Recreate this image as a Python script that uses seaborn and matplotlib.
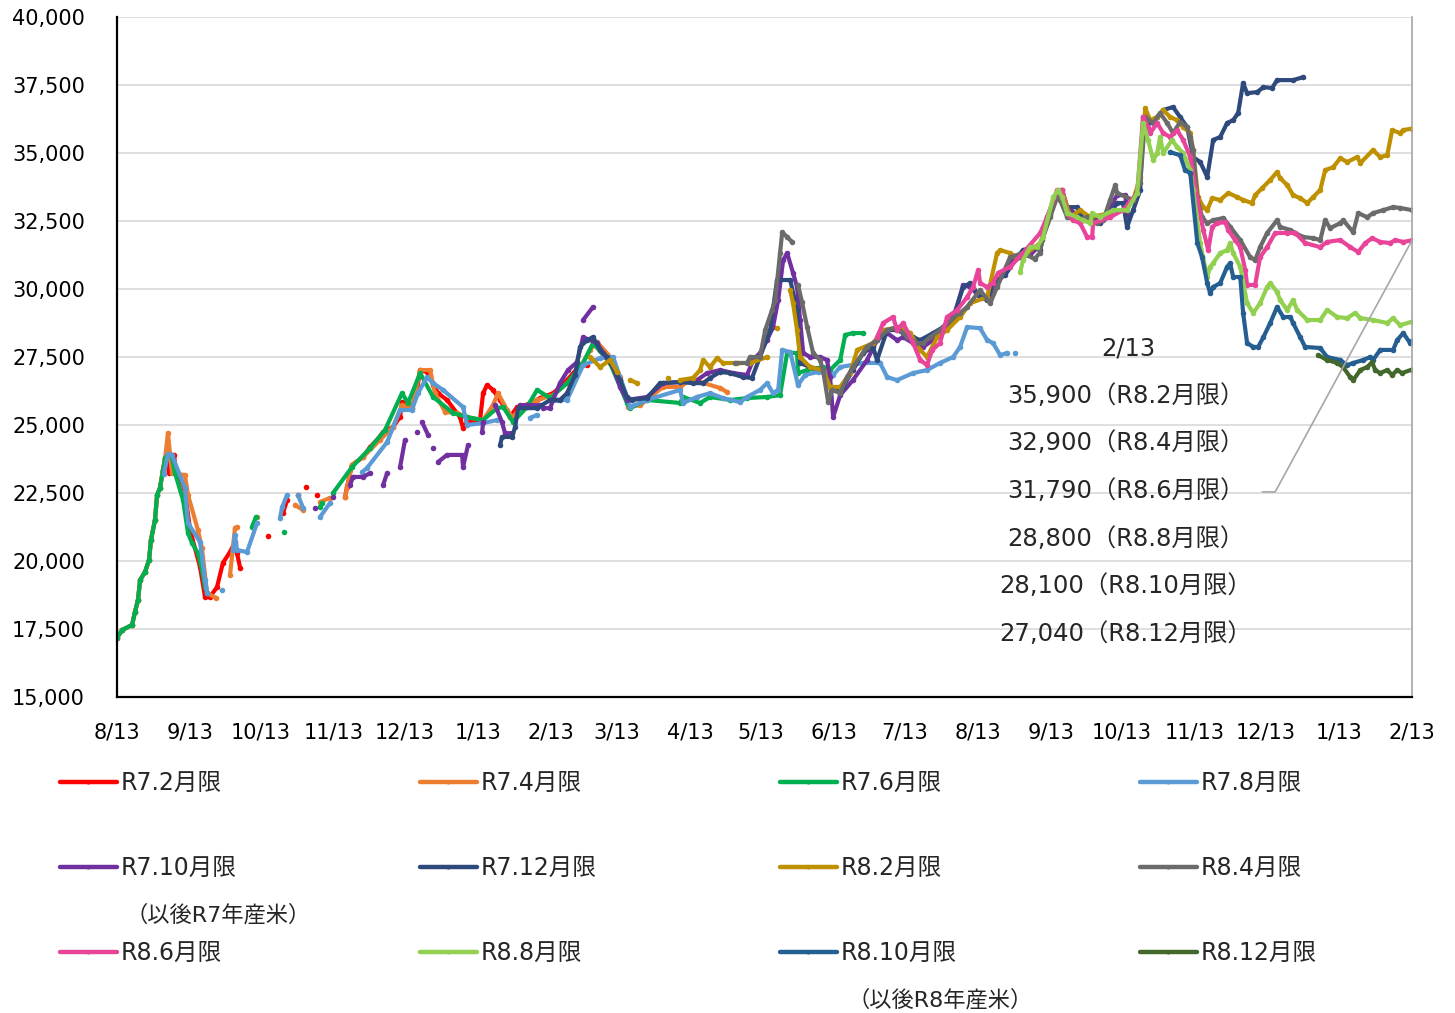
import numpy as np
import pandas as pd
import matplotlib
matplotlib.use("Agg")
import matplotlib.pyplot as plt
import seaborn as sns
from matplotlib.lines import Line2D
from matplotlib.ticker import FuncFormatter

START = pd.Timestamp("2024-08-13")
N_DAYS = 549

# ---- data: (days since 2024-08-13, price yen/60kg); None = gap ----
R7_02 = [(0,17170),(2.1,17460),(6.4,17650),(7.6,18120),(8.9,18570),(9.8,19300),(11.9,19600),(13.6,20040),(14.4,20770),
         (16.1,21510),(17,22430),(18.2,22680),(19.5,23340),(20.4,23790),(21.6,23900),(22,23230),(22.9,23900),(24.2,23900),
         (25,23230),(27.6,22900),(28.8,22540),(31,21140),(35.2,19780),(37.3,18680),(39.4,18680),(42.4,19040),(44.9,19930),
         (47.9,20330),(50,20700),None,(50.9,20290),(52.2,19740),None,(64,20920),None,(70.4,21760),(72.1,22240),None,
         (76.7,22430),None,(80.1,22720),None,(84.8,22430),None,(96.7,22350),(97.5,22720),(99.6,23530),(104.3,23820),
         (107.3,24190),(110.2,24450),(112.8,24740),(117,24930),(120,25290),(120.8,25840),(123,25660),(125,25620),
         (127.2,26290),(128.5,27020),(131.4,26950),(132.7,26840),(134,26470),(136.1,26170),(139.9,25920),(145.4,25290),
         (146.7,24890),(148.4,25110),(153.9,25180),(155.2,26170),(156.9,26470),(159.4,26290),(162.4,25920),(166.6,25290),
         (169.6,25660),(173.8,25730),(179.4,25990),(185,26170),(190.8,26650),(196.3,27200),(199.3,27200)]

R7_04 = [(0,17170),(2.1,17460),(6.4,17650),(7.6,18120),(8.9,18570),(9.8,19300),(11.9,19600),(13.6,20040),(14.4,20770),
         (16.1,21510),(17,22430),(18.2,22680),(19.5,23340),(20.4,23790),(21.6,24700),(23.3,23230),(28.8,23160),(30.1,22430),
         (34.3,21140),(36,20480),(38.2,18820),(42,18640),None,(47.9,19480),(50,21210),(50.9,21250),None,(59.4,21620),None,
         (75.5,22060),(78.9,21870),None,(86.1,22170),(90.3,22320),None,(96.7,22350),(99.6,23530),(104.3,23820),(111.5,24450),
         (117,24930),(120.8,25730),(125,25620),(128.5,27020),(132.7,27020),(134.8,26170),(139.1,25480),(144.2,25440),
         (148.4,25290),(155.2,25180),(159.4,25730),(161.5,26170),(165.4,25550),(167.9,25260),(170.9,25660),(178.1,25920),
         (184.9,26100),(190.8,26540),(195,26910),(200.6,27760),(203.5,28050),(210.3,27390),(213.3,26760),(216.2,25920),
         (216.7,25660),(221.8,25730),(231.5,26400),(238.7,26400),(243,26650),(247.2,26580),(255.7,26360),(258.6,26210)]

R7_06 = [(0,17170),(2.1,17460),(6.4,17650),(7.6,18120),(8.9,18570),(9.8,19300),(11.9,19600),(13.6,20040),(14.4,20770),
         (16.1,21510),(17,22430),(18.2,22680),(19.5,23340),(20.4,23790),(21.6,23900),(23.3,23820),(24.6,23230),(28,22240),
         (30.1,21030),(31.8,20660),(34.3,20290),(36,19670),(37.3,19040),(38.2,18820),None,(57.2,21250),(58.9,21620),None,
         (70.8,21070),None,(86.1,21980),(86.9,22130),None,(91.6,22500),(99.6,23450),(107.3,24150),(113.6,24810),
         (120.8,26170),(123.4,25810),(128.5,26910),(134,26030),(142.5,25440),(148.4,25290),(155.2,25180),(161.1,25620),
         (163.7,25660),(167.9,25110),(173.8,25660),(178.1,26290),(183.6,25990),(190.8,26540),(197.6,27280),(201.8,28010),
         (209,27280),(216.2,25810),(217.5,25620),(224.7,25920),(238.7,25810),(240,26030),(247.2,25810),(251.4,26030),
         (259.9,25920),(267.1,25990),(275.6,26030),(281.1,26100),(284.1,27650),(288.3,27650),(288.7,26910),(292.6,27020),
         (299.3,27130),(302.3,27020),(306.6,27390),(308.7,28310),(312,28380),(316.3,28380)]

R7_08 = [(19.9,23200),(21.6,23930),(23.3,23900),(28.8,22680),(30.1,21400),(35.2,20700),(37.3,19300),(38.2,18820),None,
         (44.5,18930),None,(49.2,20400),(50,20960),(50.9,20400),(55.1,20330),(59.4,21400),None,(69.1,21580),(70,21980),
         (72.1,22430),None,(76.7,22430),(78.9,21950),None,(86.1,21620),(90.3,22130),None,(103.9,23270),(106,23420),
         (114.5,24370),(120,25550),(125,25550),(127.6,26170),(131.4,26760),(134,26540),(138.2,26290),(146.7,25660),
         (148.4,25000),(155.2,25070),(161.1,25180),None,(175.1,25260),(178.1,25370),None,(186.6,25920),(190.8,25920),
         (197.6,27200),(204.8,27460),(210.3,27500),(216.2,26030),(217.5,25660),(224.7,25920),(238.7,26290),(240,25810),
         (245.9,26030),(251.4,26170),(256.9,25990),(264.2,25840),(267.1,26030),(272.6,26290),(275.6,26540),(278.1,26170),
         (280.3,26290),(282,27760),(285.4,27680),(288.7,26470),(291.7,26840),(297.2,26950),(303.6,26840),(306.6,27130),
         (316.3,27280),(323.5,27280),(326.5,26760),(330.7,26650),(337.5,26910),(343.4,27020),(348.9,27280),(354.5,27500),
         (357.4,27870),(360.4,28600),(365.9,28560),(368.9,28120),(371.4,28010),(374.4,27570),(377.4,27650),None,(380.8,27650)]

R7_10 = [(84,21950),None,(91.6,22350),None,(98.8,22790),(100,23090),(104.3,23090),(107.3,23230),None,(112.8,22790),
         (114.5,23230),None,(120,23450),(122.1,24450),None,(127.2,24740),None,(129.3,25110),(131.9,24630),None,(134,24150),
         None,(136.1,23640),(139.9,23900),(146.3,23900),(146.7,23450),(148.8,24260),None,(154.8,24740),(155.2,25110),None,
         (160.3,25730),(163.2,25110),(164.5,24700),(167.5,24700),None,(170.9,25730),(173.8,25730),(179.4,25730),
         (180.6,25620),(183.6,25620),(184.9,25920),(187.8,26540),(191.2,27020),(195,27310),(197.6,28230),(203.5,28010),
         (206.1,27650),(210.3,27130),(213.3,26400),(216.2,25920),(224.7,26030),(231.5,26540),(238.7,26580),(245.9,26650),
         (250.2,26910),(255.7,27020),(261.2,26910),(267.1,26840),(269.7,27390),(272.6,27650),(275.6,28120),(278.1,28600),
         (280.3,29590),(282.4,31060),(284.1,31320),(286.6,30590),(288.3,30070),(289.6,28860),(290.9,27650),(293.8,27500),
         (298,27500),(301,27390),(302.3,26760),(303.6,25290),(306.6,26100),(312,26650),(318,27390),(322.2,28120),
         (326.5,28380),(330.7,28120),(333.3,28230),(337.5,28010),(341.7,27870),(346,28120),(350.2,28490),(354.5,28860),
         (358.7,30150),(361.7,30070),(365.9,29700),(370.2,29590),(373.1,30150),(378.6,30990),(382.9,31170),(387.1,31250),
         (391.4,31620),(395.6,32720),(399,33560),(402,33090),(407,32720),(412.6,32530),(418.9,32720),(424,33450),
         (427.4,33450),(428.6,32720),None,(197.6,28860),(201.8,29340)]

R7_12 = [(162.4,24260),(163.2,24560),(167.5,24560),(168.8,24930),(170,25620),(178.1,25620),(183.6,25920),(187.8,25920),
         (190.8,26170),(194.2,26840),(196.3,27870),(199.3,28120),(201.8,28230),(204.8,27760),(207.8,27500),(213.3,26650),
         (216.2,26030),(218.4,25920),(224.7,25990),(230.2,26540),(238.7,26580),(244.2,26540),(248.5,26540),(251.4,26730),
         (255.7,26950),(259.9,26910),(265.4,26760),(269.2,26730),(276.9,28490),(279.8,30330),(285.4,30330),(288.3,29230),
         (289.6,27280),(293.8,27130),(299.3,27020),(302.3,26400),(305.3,26290),(307.8,26400),(312,27020),(316.3,27650),
         (320.5,27870),(322.2,27390),(326.5,28490),(330.7,28490),(333.3,28380),(337.5,28230),(340.5,28120),(346,28380),
         (350.2,28600),(354.5,28970),(358.7,30070),(361.7,30220),(365.9,29700),(368.9,29590),(371.4,30220),(376.5,30510),
         (381.6,31170),(384.1,31430),(388.4,31540),(391.4,31430),(394.3,32640),(398.6,33530),(400.7,33640),(402.8,33010),
         (407,33010),(409.6,32530),(412.6,32640),(416.8,32420),(419.8,32640),(424,33160),(426.5,33160),(428.2,32280),
         (430.8,32900),(433.8,33640),(435,36320),(438,36140),(441,36320),(443.5,36580),(447.7,36690),(450.7,36320),
         (453.7,35950),(456.2,34850),(459.2,34670),(462.2,34120),(464.7,35480),(467.7,35590),(470.6,36100),(473.2,36210),
         (475.3,36470),(477.4,37570),(479.1,37200),(483.4,37240),(486,37420),(489.7,37390),(491.8,37680),(498.6,37680),
         (502.9,37790)]

R8_02 = [(200.6,27500),(204.8,27130),(209,27390),(212,26950),None,(217.5,26650),(220.5,26540),None,(233.6,26730),None,
         (238.7,26650),(244.2,26730),(247.2,27020),(248.5,27390),(251.4,27130),(254.4,27460),(256.9,27280),(262.9,27280),
         (268.4,27280),(275.6,27500),None,(279.8,28560),None,(285.4,29960),(286.6,29480),(288.3,28490),(289.6,27500),
         (293.8,27130),(299.3,27020),(302.3,26400),(306.6,26400),(310.8,26910),(313.8,27760),(320.5,28010),(324.8,28490),
         (332,28600),(336.2,28380),(340.5,27760),(343.4,27500),(347.7,28230),(351.9,28490),(357.4,28970),(361.7,29480),
         (368.9,29700),(373.1,31320),(374.4,31430),(378.6,31320),(381.6,31140),(385.8,31320),(391.4,31690),(394.3,32420),
         (398.6,33530),(400.7,33640),(404.1,32640),(408.3,32900),(412.6,32640),(421,32790),(426.5,32900),(430.8,33270),
         (433.8,34120),(435.9,36650),(438,36210),(441,36320),(443.5,36580),(446.5,36320),(449.4,36210),(452,35950),
         (455,35730),(456.2,35110),(458.3,33380),(460.5,33010),(462.2,32900),(464.3,33340),(467.7,33270),(471.1,33530),
         (474.9,33380),(477.4,33270),(481.2,33160),(482.5,33450),(485.5,33710),(488.9,34010),(491.8,34300),(493.1,34080),
         (496.1,33820),(498.6,33450),(501.6,33340),(504.6,33160),(507.1,33380),(510.1,33640),(512.2,34370),(515.6,34480),
         (518.6,34810),(521.5,34670),(525.8,34850),(527.1,34630),(532.5,35110),(535.5,34850),(538.5,34920),(540.6,35840),
         (544,35730),(545.3,35840),(549,35900)]

R8_04 = [(262,27280),(267.1,27280),(268.4,27500),(272.6,27500),(274.8,28490),(277.7,29230),(279,29590),(281.1,31320),
         (282,32090),(284.1,31910),(286.2,31730),None,(288.7,30150),(290.4,29520),(292.6,28600),(295.1,27650),(298,27390),
         (299.3,27020),(301.5,25840),(303.2,26290),(306.6,26170),(309.5,26760),(312,27130),(318,27870),(322.2,28120),
         (326.5,28490),(330.7,28600),(335,28230),(339.2,28010),(341.7,28010),(344.7,28230),(348.9,28490),(353.2,28860),
         (357.4,29120),(360.4,29340),(365.9,29960),(370.2,29480),(373.1,30070),(378.6,31170),(384.1,31320),(389,31100),
         (391.1,31320),(392.2,31800),(395.6,32640),(398.6,33380),(399.8,33270),(402.8,32640),(407,32530),(411.3,32640),
         (415.5,32420),(418.1,32530),(421,33270),(423.2,33820),(424,33530),(430.8,33270),(433.8,33890),(435.9,36320),
         (439.3,36100),(442.2,36470),(445.2,36100),(447.7,35730),(450.7,36140),(453.7,35950),(455,35590),(456.2,35110),
         (457.9,33380),(460,32640),(462.2,32420),(464.7,32530),(469,32610),(472,32280),(476.2,31800),(480.4,31170),
         (482.5,31060),(484.6,31540),(487.6,32060),(491.8,32530),(493.1,32280),(497.4,32170),(499.5,32060),(502.9,31910),
         (507.1,31870),(510.1,31800),(512.2,32530),(514.3,32240),(518.6,32420),(519.8,32530),(524.1,32090),(526.2,32790),
         (530,32640),(532.5,32790),(536.8,32900),(541,33010),(544,32980),(549,32900)]

R8_06 = [(322.2,28230),(324.8,28750),(329,28970),(330.7,28490),(333.3,28750),(337.5,28010),(340.5,27390),(343.4,27200),
         (345.6,27760),(348.9,28010),(351.9,28970),(356.2,29230),(360.4,29700),(362.9,30070),(365.1,30700),(365.9,30220),
         (368.9,30070),(371.4,30220),(373.5,30590),(378.6,30810),(384.1,31320),(391.4,32060),(394.3,32640),(398.6,33640),
         (400.7,33640),(402.8,32790),(405.3,32530),(408.3,32420),(411.3,31910),(413.4,31910),(413.8,32420),(416.8,32530),
         (421,32640),(426.5,32900),(432.5,33530),(435,36320),(437.1,35950),(438,35730),(441,36100),(443.5,35730),
         (446.5,35590),(449.4,35840),(452,35480),(455,34850),(458,33270),(460.5,32170),(462.6,31430),(464.3,32280),
         (466.4,32420),(469.8,32460),(471.1,32170),(474,31800),(476.2,31540),(478.3,30700),(479.1,30150),(482.5,30150),
         (484.6,31170),(487.6,31540),(491,32060),(496.1,32060),(499.5,32060),(503.7,31690),(510.1,31540),(513,31730),
         (518.6,31800),(522.8,31540),(526.2,31360),(529.2,31690),(532.1,31870),(535.5,31730),(539.7,31690),(541.9,31800),
         (545.3,31730),(549,31790)]

R8_08 = [(382.9,30620),(384.1,31060),(387.1,31540),(390.1,31540),(392.6,31910),(396.9,33380),(399,33640),(400.7,33380),
         (402.8,32790),(407,32640),(409.6,32530),(412.6,32420),(413.4,32790),(416.8,32640),(422.3,32900),(428.2,32900),
         (432.5,33530),(435,36100),(437.1,35480),(439.3,34740),(441,35000),(442.2,35590),(443.5,35000),(447.3,35480),
         (449.4,35220),(452,35000),(455,34370),(456.2,33640),(459.2,31690),(462.2,30440),(463.4,30810),(464.7,30950),
         (467.7,31320),(470.6,31430),(471.9,31690),(473.2,31320),(476.2,30810),(479.1,29480),(481.7,29120),(484.6,29480),
         (487.6,30070),(488.9,30220),(491.8,29890),(493.1,29590),(496.1,29230),(498.6,29590),(500.3,29230),(504.6,28860),
         (510.1,28860),(513,29230),(517.3,28970),(521.5,28930),(524.9,29120),(527.1,28930),(532.5,28860),(538.5,28750),
         (541,28930),(544,28670),(549,28800)]

R8_10 = [(446.5,35030),(450.7,34920),(452.8,34370),(455,34260),(458,31690),(460,31170),(462.2,30220),(463.4,29850),
         (464.7,30070),(467.7,30220),(470.6,30810),(471.9,30950),(473.2,30440),(476.2,30440),(477.4,29120),(479.1,28010),
         (481.7,27870),(483.8,27870),(486,28230),(488.9,28750),(491.8,29340),(494.4,28970),(497.4,28970),(498.6,28750),
         (501.6,28230),(503.7,27870),(510.1,27830),(513,27500),(518.6,27390),(521.5,27200),(524.1,27280),(528.3,27390),
         (531.3,27500),(532.5,27390),(535.5,27760),(541,27760),(542.7,28120),(545.3,28380),(548.2,28010),(549,28100)]

R8_12 = [(509.2,27570),(513,27390),(517.3,27280),(519.8,27130),(522.8,26760),(524.1,26650),(527.1,27020),(530,27130),
         (532.1,27310),(533.4,27020),(535.5,26910),(538.5,27020),(540.6,26840),(542.7,27020),(544.8,26910),(549,27040)]

SERIES_NAMES = ["R7.2月限", "R7.4月限", "R7.6月限", "R7.8月限",
                "R7.10月限", "R7.12月限", "R8.2月限", "R8.4月限",
                "R8.6月限", "R8.8月限", "R8.10月限", "R8.12月限"]
SERIES_DATA = [R7_02, R7_04, R7_06, R7_08, R7_10, R7_12, R8_02, R8_04, R8_06, R8_08, R8_10, R8_12]
COLORS = ["#FF0000", "#ED7D31", "#00B050", "#5B9BD5",
          "#7030A0", "#2E4A7D", "#BF9000", "#6B6B6B",
          "#E8449A", "#92D050", "#255E91", "#43682B"]

FINAL_LABEL = "2/13"
FINAL_VALUES = ["35,900（R8.2月限）", "32,900（R8.4月限）", "31,790（R8.6月限）",
                "28,800（R8.8月限）", "28,100（R8.10月限）", "27,040（R8.12月限）"]
NOTE_R7 = "（以後R7年産米）"
NOTE_R8 = "（以後R8年産米）"


def to_frame(points):
    rows, seg = [], 0
    for p in points:
        if p is None:
            seg += 1
            continue
        rows.append((START + pd.Timedelta(days=p[0]), p[1], seg))
    return pd.DataFrame(rows, columns=["date", "value", "seg"])


sns.set_theme(style="white")
plt.rcParams["font.family"] = ["DejaVu Sans", "Noto Sans CJK JP"]

W, H = 1455, 1013
fig = plt.figure(figsize=(W / 100, H / 100), dpi=100)
ax = fig.add_axes([117 / W, 1 - 697 / H, (1412 - 117) / W, (697 - 17) / H])

for name, pts, col in zip(SERIES_NAMES, SERIES_DATA, COLORS):
    df = to_frame(pts)
    sns.lineplot(data=df, x="date", y="value", units="seg", estimator=None, sort=False,
                 color=col, linewidth=3.0, marker="o", markersize=4, markeredgewidth=0,
                 legend=False, ax=ax)

# axes styling
ax.set_ylim(15000, 40000)
ax.set_yticks(np.arange(15000, 40001, 2500))
ax.yaxis.set_major_formatter(FuncFormatter(lambda v, p: f"{v:,.0f}"))
ax.set_xlim(START, START + pd.Timedelta(days=N_DAYS))
xt = [START + pd.DateOffset(months=i) for i in range(19)]
ax.set_xticks(xt)
ax.set_xticklabels([f"{t.month}/13" for t in xt])
ax.set_xlabel("")
ax.set_ylabel("")
ax.yaxis.grid(True, color="#D9D9D9", linewidth=1.2)
ax.xaxis.grid(False)
ax.set_axisbelow(True)
ax.tick_params(axis="x", length=0, pad=18, labelsize=15, colors="#000000")
ax.tick_params(axis="y", length=0, pad=23, labelsize=15, colors="#000000")
for s in ["left", "bottom"]:
    ax.spines[s].set_color("#000000")
    ax.spines[s].set_linewidth(1.6)
ax.spines["top"].set_visible(False)
ax.spines["right"].set_color("#A6A6A6")
ax.spines["right"].set_linewidth(1.2)

# leader line for the 2/13 annotation
lead_x = [START + pd.Timedelta(days=d) for d in (485.5, 491, 549)]
ax.plot(lead_x, [22540, 22540, 31790], color="#A6A6A6", linewidth=1.2, zorder=5)

# annotation block
cx = 1126 / W
fig.text(1128 / W, 1 - 349 / H, FINAL_LABEL, ha="center", va="center", fontsize=17.5)
for txt, yp in zip(FINAL_VALUES, [396, 443, 491, 539, 586, 634]):
    fig.text(cx, 1 - yp / H, txt, ha="center", va="center", fontsize=17.5)

# legend: 4 columns x 3 rows
col_x = [60, 420, 780, 1140]
row_y = [783, 868, 953]
for i, (name, col) in enumerate(zip(SERIES_NAMES, COLORS)):
    r, c = divmod(i, 4)
    h = Line2D([], [], color=col, linewidth=3.2, marker="o", markersize=3, markeredgewidth=0)
    fig.legend(handles=[h], labels=[name], loc="center left",
               bbox_to_anchor=(col_x[c] / W, 1 - row_y[r] / H), frameon=False,
               borderpad=0, borderaxespad=0, handlelength=2.4, handletextpad=0.15,
               fontsize=17)

fig.text(218 / W, 1 - 915 / H, NOTE_R7, ha="center", va="center", fontsize=16)
fig.text(940 / W, 1 - 1000 / H, NOTE_R8, ha="center", va="center", fontsize=16)

fig.savefig("out.png", dpi=100, facecolor="white")
